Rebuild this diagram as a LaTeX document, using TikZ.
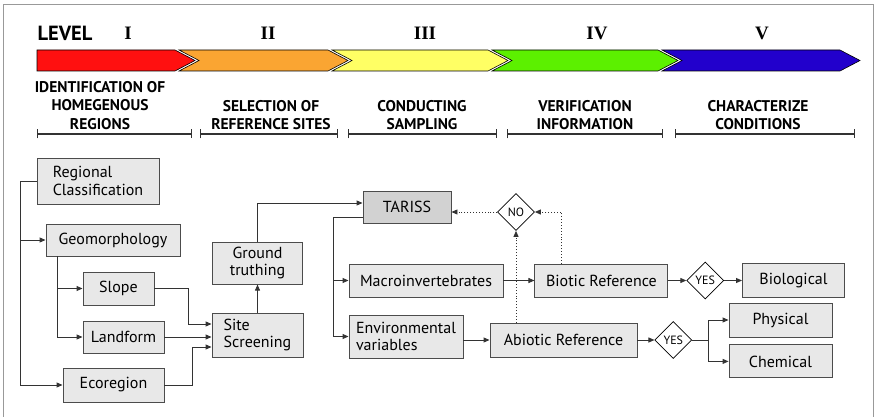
\documentclass[tikz,border=0pt]{standalone}
\usepackage{fontspec}
\setmainfont{PT Sans}
\newfontfamily\numfont{Liberation Serif}
\usetikzlibrary{arrows.meta, positioning, shapes.geometric}

\definecolor{lvlred}{RGB}{255,16,16}
\definecolor{lvlorange}{RGB}{250,165,50}
\definecolor{lvlyellow}{RGB}{255,255,100}
\definecolor{lvlgreen}{RGB}{92,240,0}
\definecolor{lvlblue}{RGB}{34,0,204}

\tikzset{
  blk/.style={draw=black!70, fill=gray!18, line width=0.9pt, inner sep=2pt,
    font=\fontsize{16}{17.5}\selectfont},
  dia/.style={diamond, draw=black, fill=white, line width=0.7pt,
    minimum size=37pt, inner sep=0pt, font=\fontsize{12}{12}\selectfont},
  cn/.style={draw=black!80, line width=0.9pt, -{Triangle[length=6pt,width=5pt]}},
  dt/.style={cn, dotted},
  hd/.style={font=\bfseries\fontsize{15.5}{18.5}\selectfont, align=center},
  num/.style={font=\numfont\bfseries\fontsize{19}{19}\selectfont},
  bar/.style={draw=black!80, line width=1.2pt, {Bar[width=9pt]}-{Bar[width=9pt]}},
  chev/.style={draw=black, line width=0.6pt},
}

\begin{document}
\begin{tikzpicture}[x=1pt, y=-1pt]
      \useasboundingbox (0,0) rectangle (875,417);
      \draw[gray!80, line width=1pt] (3,430) -- (3,5) -- (873,5) -- (873,430);
      % level bar
      \filldraw[chev, fill=lvlred] (37,50) -- (175,50) -- (195,60.5) -- (175,71) -- (37,71) -- cycle;
      \filldraw[chev, fill=lvlorange] (179,50) -- (328,50) -- (348,60.5) -- (328,71) -- (179,71) -- (199,60.5) -- cycle;
      \filldraw[chev, fill=lvlyellow] (332,50) -- (488,50) -- (508,60.5) -- (488,71) -- (332,71) -- (352,60.5) -- cycle;
      \filldraw[chev, fill=lvlgreen] (492,50) -- (658,50) -- (678,60.5) -- (658,71) -- (492,71) -- (512,60.5) -- cycle;
      \filldraw[chev, fill=lvlblue] (662,50) -- (840,50) -- (860,60.5) -- (840,71) -- (662,71) -- (682,60.5) -- cycle;
      \node[font=\bfseries\fontsize{20.5}{20.5}\selectfont] (lvl) at (65,33) {LEVEL};
      \node[num] (n1) at (128,33) {I};
      \node[num] (n2) at (268,33) {II};
      \node[num] (n3) at (425,33) {III};
      \node[num] (n4) at (597,33) {IV};
      \node[num] (n5) at (762,33) {V};
      \node[hd] (h1) at (100,105.5) {IDENTIFICATION OF\\HOMEGENOUS\\REGIONS};
      \node[hd] (h2) at (271,115) {SELECTION OF\\REFERENCE SITES};
      \node[hd] (h3) at (422,115) {CONDUCTING\\SAMPLING};
      \node[hd] (h4) at (585,115) {VERIFICATION\\INFORMATION};
      \node[hd] (h5) at (758,115) {CHARACTERIZE\\CONDITIONS};
      \draw[bar] (37,134) -- (192,134);
      \draw[bar] (200,134) -- (338,134);
      \draw[bar] (348,134) -- (497,134);
      \draw[bar] (507,134) -- (663,134);
      \draw[bar] (675,134) -- (855,134);
      % flow
      \node[blk, minimum width=122pt, minimum height=46pt, align=left] (reg) at (98,181) {Regional\\Classification};
      \node[blk, minimum width=134pt, minimum height=32pt] (geo) at (113,240) {Geomorphology};
      \node[blk, minimum width=71pt, minimum height=33pt] (slope) at (118.5,288.5) {Slope};
      \node[blk, minimum width=81pt, minimum height=32pt] (land) at (123.5,337) {Landform};
      \node[blk, minimum width=101pt, minimum height=34pt] (eco) at (113.5,385) {Ecoregion};
      \node[blk, minimum width=91pt, minimum height=44pt, align=left] (site) at (257.5,335) {Site\\Screening};
      \node[blk, minimum width=90pt, minimum height=42pt, align=center, above=28pt of site] (ground) {Ground\\truthing};
      \node[blk, fill=gray!35, minimum width=88pt, minimum height=32pt] (tariss) at (407,207) {TARISS};
      \node[blk, minimum width=154pt, minimum height=33pt] (macro) at (426,280.5) {Macroinvertebrates};
      \node[blk, minimum width=114pt, minimum height=43pt, align=left] (env) at (406,336.5) {Environmental\\variables};
      \node[blk, minimum width=133pt, minimum height=33pt, right=31pt of macro] (biotic) {Biotic Reference};
      \node[blk, minimum width=147pt, minimum height=34pt] (abiotic) at (563.5,340) {Abiotic Reference};
      \node[dia] (no) at (516,212) {NO};
      \node[dia, right=18pt of biotic] (yes1) {YES};
      \node[blk, minimum width=102pt, minimum height=34pt, right=18pt of yes1] (biol) {Biological};
      \node[dia, right=17pt of abiotic] (yes2) {YES};
      \node[blk, minimum width=103pt, minimum height=34pt] (phys) at (780.5,320) {Physical};
      \node[blk, minimum width=103pt, minimum height=33pt, below=7pt of phys] (chem) {Chemical};
      \draw[cn] (reg.west) -- ++(-16,0) |- (eco);
      \draw[cn] (reg.west) ++(-16,0) |- (geo);
      \draw[cn] (geo.south west) ++(12,0) |- (slope);
      \draw[cn] (geo.south west) ++(12,0) |- (land);
      \draw[cn] (slope.east) -- ++(34,0) |- ([yshift=11pt]site.west);
      \draw[cn] (land) -- (land -| site.west);
      \draw[cn] (eco.east) -- ++(28,0) |- ([yshift=-12pt]site.west);
      \draw[cn] (site) -- (ground);
      \draw[cn] (ground.north) |- ([yshift=4pt]tariss.west);
      \draw[cn] ([yshift=-10pt]tariss.west) -- ++(-29,0) |- (macro);
      \draw[cn] ([yshift=-10pt]tariss.west) ++(-29,0) |- (env);
      \draw[cn] (macro) -- (biotic);
      \draw[cn] (env.east |- abiotic) -- (abiotic);
      \draw[dt] (no) -- (no -| tariss.east);
      \draw[dt] ([xshift=-40pt]biotic.north) |- (no);
      \draw[dt] (abiotic.north -| no) -- (no);
      \draw[cn] (biotic) -- (yes1);
      \draw[cn] (yes1) -- (biol);
      \draw[cn] (abiotic) -- (yes2);
      \draw[cn] (yes2.east) -- ++(16,0) |- (phys);
      \draw[cn] (yes2.east) ++(16,0) |- (chem);
    \end{tikzpicture}
\end{document}
